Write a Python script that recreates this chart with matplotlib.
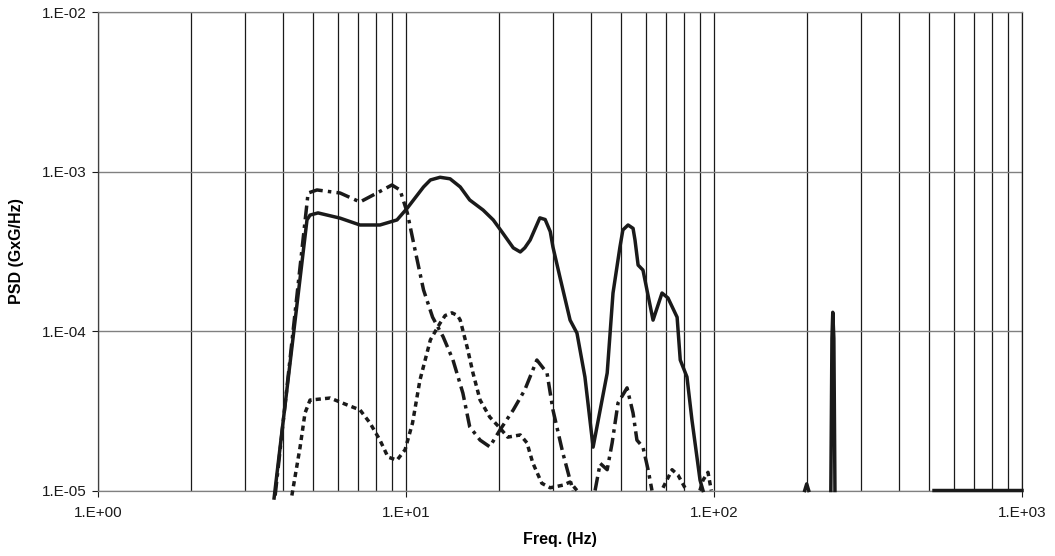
import numpy as np
import matplotlib
matplotlib.use("Agg")
import matplotlib.pyplot as plt
from matplotlib.ticker import LogLocator, FuncFormatter, NullLocator

plt.rcParams['font.family'] = ['Liberation Sans', 'DejaVu Sans']

nan = np.nan

# Solid series (NaN separates the pieces that dip below 1E-05)
f_solid = [3.73, 4.77, 4.88, 5.18, 6.11, 7.09, 8.23, 9.35, 10.1, 11.4, 12.0, 12.9, 13.9, 15.0,
           16.1, 17.8, 19.2, 20.6, 22.3, 23.5, 24.3, 25.3, 27.2, 28.3, 29.4, 30.0, 31.6, 34.1, 35.9, 38.1,
           40.5, 42.7, 45.0, 47.0, 49.5, 50.6, 52.6, 54.6, 55.4, 56.7, 58.8, 63.4, 67.8, 70.9,
           75.9, 77.7, 81.7, 84.8, 90.1, 92.1, nan,
           197, 200, 203, nan,
           239.5, 241.5, 243, 245, 247, nan,
           518, 1000]
psd_solid = [8.97e-6, 4.97e-4, 5.33e-4, 5.5e-4, 5.1e-4, 4.62e-4, 4.62e-4, 4.97e-4, 5.9e-4, 8.0e-4, 8.85e-4, 9.2e-4, 9.0e-4, 8.0e-4,
             6.63e-4, 5.73e-4, 4.97e-4, 4.12e-4, 3.32e-4, 3.13e-4, 3.32e-4, 3.72e-4, 5.12e-4, 5.0e-4, 4.2e-4, 3.36e-4, 2.18e-4, 1.17e-4, 9.7e-5, 5.15e-5,
             1.87e-5, 3.2e-5, 5.45e-5, 1.73e-4, 3.36e-4, 4.3e-4, 4.62e-4, 4.4e-4, 3.72e-4, 2.59e-4, 2.41e-4, 1.17e-4, 1.73e-4, 1.61e-4,
             1.22e-4, 6.58e-5, 5.15e-5, 2.77e-5, 1.16e-5, 1.0e-5, nan,
             1.0e-5, 1.1e-5, 1.0e-5, nan,
             1.0e-5, 9.0e-5, 1.31e-4, 9.0e-5, 1.0e-5, nan,
             1.0e-5, 1.0e-5]

# Long dash-dot series
f_dashdot = [3.76, 4.81, 5.14, 6.11, 7.09, 8.05, 9.0, 9.56, 10.1, 10.7, 11.4, 12.2,
             13.2, 14.2, 15.3, 16.1, 17.4, 18.7, 20.2, 22.3, 24.3, 26.6, 28.7, 30.0,
             32.3, 34.1, 34.9, nan,
             41.1, 42.7, 45.0, 46.7, 48.8, 52.2, 54.6, 56.2, 58.8, 61.1, 62.9]
psd_dashdot = [9.3e-6, 7.33e-4, 7.66e-4, 7.33e-4, 6.44e-4, 7.33e-4, 8.23e-4, 7.66e-4, 5.5e-4, 3.22e-4, 1.81e-4, 1.22e-4,
               9.2e-5, 6.6e-5, 4.08e-5, 2.51e-5, 2.07e-5, 1.88e-5, 2.4e-5, 3.2e-5, 4.27e-5, 6.58e-5, 5.45e-5, 3.2e-5,
               1.72e-5, 1.16e-5, 1.0e-5, nan,
               1.0e-5, 1.48e-5, 1.35e-5, 1.99e-5, 3.54e-5, 4.4e-5, 3.06e-5, 2.07e-5, 1.87e-5, 1.35e-5, 1.0e-5]

# Short dash series
f_dash = [4.26, 4.53, 4.70, 4.88, 5.67, 6.44, 7.09, 7.64, 8.23, 8.74, 9.35, 9.93,
          10.5, 11.1, 12.0, 12.9, 13.4, 14.1, 14.7, 15.0, 15.8, 16.5, 17.4, 18.7, 20.2, 21.4,
          23.5, 24.7, 25.8, 27.6, 29.4, 32.3, 34.1, 35.9, nan,
          68.3, 73.1, 76.4, 80.5, 82.0, nan,
          90.0, 92.1, 95.6, 98.0]
psd_dash = [9.3e-6, 1.87e-5, 3.06e-5, 3.69e-5, 3.8e-5, 3.44e-5, 3.2e-5, 2.65e-5, 2.07e-5, 1.62e-5, 1.55e-5, 1.8e-5,
            2.65e-5, 4.93e-5, 8.8e-5, 1.12e-4, 1.25e-4, 1.3e-4, 1.25e-4, 1.17e-4, 7.9e-5, 5.45e-5, 3.69e-5, 2.89e-5, 2.46e-5, 2.16e-5,
            2.23e-5, 1.99e-5, 1.49e-5, 1.11e-5, 1.04e-5, 1.08e-5, 1.13e-5, 1.0e-5, nan,
            1.04e-5, 1.35e-5, 1.25e-5, 1.04e-5, 1.0e-5, nan,
            1.0e-5, 1.16e-5, 1.3e-5, 1.0e-5]

fig = plt.figure(figsize=(10.55, 5.56), dpi=100)
ax = fig.add_axes([98 / 1055, 1 - 490.5 / 556, 924 / 1055, 478.5 / 556])

lw = 2.5
ax.plot(f_solid, psd_solid, color='#1a1a1a', lw=lw, clip_on=False, zorder=3,
        solid_joinstyle='round')
ax.plot(f_dashdot, psd_dashdot, color='#1a1a1a', lw=lw, clip_on=False, zorder=3,
        dashes=(4, 1.5, 1, 1.5), dash_joinstyle='round')
ax.plot(f_dash, psd_dash, color='#1a1a1a', lw=lw, clip_on=False, zorder=3,
        dashes=(1.5, 1.2), dash_joinstyle='round')

ax.set_xscale('log')
ax.set_yscale('log')
ax.set_xlim(1, 1000)
ax.set_ylim(1e-5, 1e-2)

ax.xaxis.set_major_locator(LogLocator(base=10, numticks=10))
ax.xaxis.set_minor_locator(LogLocator(base=10, subs=np.arange(2, 10), numticks=20))
ax.yaxis.set_major_locator(LogLocator(base=10, numticks=10))
ax.yaxis.set_minor_locator(NullLocator())
fmt = FuncFormatter(lambda v, p: "1.E{:+03d}".format(int(round(np.log10(v)))))
ax.xaxis.set_major_formatter(fmt)
ax.yaxis.set_major_formatter(fmt)
ax.xaxis.set_minor_formatter(FuncFormatter(lambda v, p: ""))

ax.grid(which='both', axis='x', color='#1a1a1a', lw=0.9)
ax.grid(which='major', axis='y', color='#808080', lw=1.0)
ax.set_axisbelow(True)

ax.spines['top'].set_color('#808080')
ax.spines['bottom'].set_color('#808080')
ax.spines['left'].set_color('#404040')
ax.spines['right'].set_color('#1a1a1a')
for s in ax.spines.values():
    s.set_linewidth(0.9)

ax.tick_params(axis='both', which='major', labelsize=11, colors='#1a1a1a',
               length=4, width=0.8)
ax.tick_params(axis='x', which='major', pad=7)
ax.tick_params(axis='y', which='major', pad=4)
ax.tick_params(which='minor', length=0)

ax.set_xlabel("Freq. (Hz)", fontsize=11.5, fontweight='bold', labelpad=9)
ax.set_ylabel("PSD (GxG/Hz)", fontsize=11.5, fontweight='bold', labelpad=13)

fig.savefig("out.png", dpi=100)
